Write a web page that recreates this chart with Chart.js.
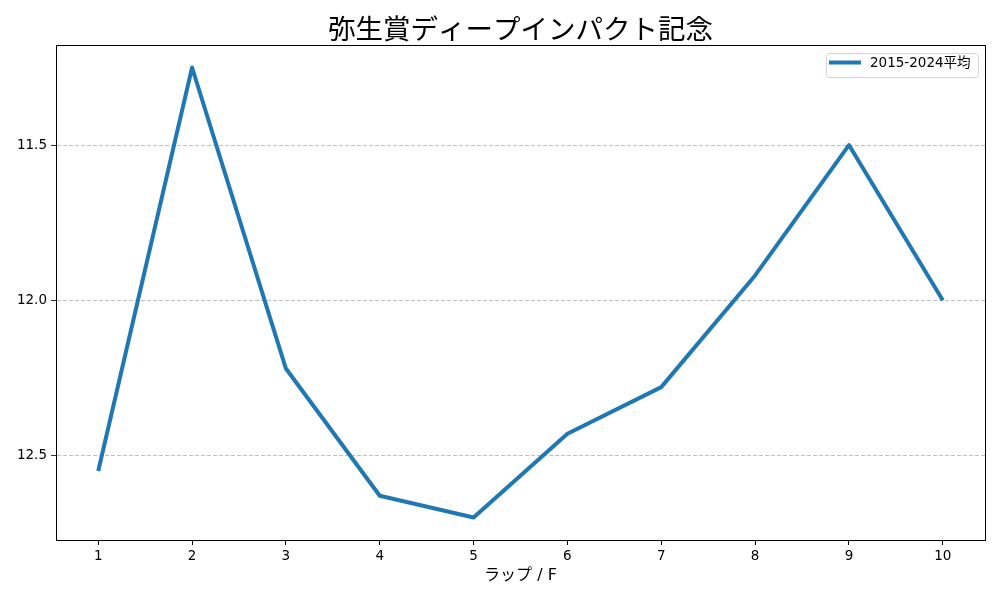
<!DOCTYPE html>
<html>
<head>
<meta charset="utf-8">
<script src="https://cdn.jsdelivr.net/npm/chart.js@4/dist/chart.umd.min.js"></script>
<style>
  html, body { margin: 0; padding: 0; background: #fff; }
  #wrap { width: 1000px; height: 600px; }
</style>
</head>
<body>
<div id="wrap"><canvas id="lapChart" width="1000" height="600"></canvas></div>
<script>
// Data
const laps = [1, 2, 3, 4, 5, 6, 7, 8, 9, 10];
const avgTimes = [12.55, 11.25, 12.22, 12.63, 12.70, 12.43, 12.28, 11.92, 11.50, 12.00];
const yTicks = [11.5, 12.0, 12.5];
const xTicks = [1, 2, 3, 4, 5, 6, 7, 8, 9, 10];
const seriesLabel = '2015-2024平均';
const chartTitle = '弥生賞ディープインパクト記念';
const xLabel = 'ラップ / F';

const FONT = "'DejaVu Sans', 'Noto Sans CJK JP', sans-serif";
const TITLE_FONT = "'Noto Sans CJK JP', sans-serif";
const LINE_COLOR = '#1f77b4';

// Frame, title and matplotlib-style legend
const decorPlugin = {
    id: 'decor',
    afterDraw(chart) {
        const ctx = chart.ctx;
        const a = chart.chartArea;
        ctx.save();
        ctx.strokeStyle = '#000';
        ctx.lineWidth = 1;
        ctx.strokeRect(Math.round(a.left) + 0.5, Math.round(a.top) + 0.5,
            Math.round(a.right - a.left), Math.round(a.bottom - a.top));

        // title
        ctx.fillStyle = '#000';
        ctx.font = '27.5px ' + TITLE_FONT;
        ctx.textAlign = 'center';
        ctx.textBaseline = 'alphabetic';
        ctx.fillText(chartTitle, (a.left + a.right) / 2, 38.5);

        // legend
        const bx = a.right - 159, by = a.top + 8, bw = 152, bh = 24;
        ctx.beginPath();
        ctx.roundRect(bx + 0.5, by + 0.5, bw, bh, 3);
        ctx.fillStyle = 'rgba(255,255,255,0.8)';
        ctx.fill();
        ctx.strokeStyle = '#d5d5d5';
        ctx.lineWidth = 1;
        ctx.stroke();
        ctx.beginPath();
        ctx.moveTo(bx + 3, by + 9.5);
        ctx.lineTo(bx + 35, by + 9.5);
        ctx.strokeStyle = LINE_COLOR;
        ctx.lineWidth = 4;
        ctx.stroke();
        ctx.fillStyle = '#000';
        ctx.font = '13.5px ' + FONT;
        ctx.textAlign = 'left';
        ctx.textBaseline = 'middle';
        ctx.fillText(seriesLabel, bx + 44, by + 10);
        ctx.restore();
    }
};

new Chart(document.getElementById('lapChart'), {
    type: 'line',
    data: {
        datasets: [{
            label: seriesLabel,
            data: laps.map((lap, i) => ({ x: lap, y: avgTimes[i] })),
            borderColor: LINE_COLOR,
            borderWidth: 4,
            pointRadius: 0,
            fill: false,
            tension: 0,
            borderJoinStyle: 'round',
            borderCapStyle: 'butt'
        }]
    },
    options: {
        responsive: false,
        animation: false,
        layout: { padding: { top: 45, right: 15, left: 0, bottom: 0 } },
        plugins: {
            legend: { display: false },
            title: { display: false },
            tooltip: { enabled: false }
        },
        scales: {
            x: {
                type: 'linear',
                min: 0.55,
                max: 10.45,
                afterBuildTicks: scale => { scale.ticks = xTicks.map(v => ({ value: v })); },
                afterFit: scale => { scale.height = 60; },
                grid: {
                    drawOnChartArea: false,
                    drawTicks: true,
                    tickLength: 5,
                    tickColor: '#000'
                },
                border: { color: '#000', width: 1 },
                ticks: {
                    color: '#000',
                    padding: 3,
                    maxRotation: 0,
                    font: { family: FONT, size: 13.5 },
                    callback: v => String(v)
                },
                title: {
                    display: true,
                    text: xLabel,
                    color: '#000',
                    font: { family: FONT, size: 16 },
                    padding: { top: 0, bottom: 15 }
                }
            },
            y: {
                type: 'linear',
                reverse: true,
                min: 11.1775,
                max: 12.7725,
                afterBuildTicks: scale => { scale.ticks = yTicks.map(v => ({ value: v })); },
                afterFit: scale => { scale.width = 56; },
                grid: {
                    color: '#b0b0b0',
                    lineWidth: 0.8,
                    drawTicks: true,
                    tickLength: 5,
                    tickColor: '#000'
                },
                border: { color: '#000', width: 1, dash: [4, 2] },
                ticks: {
                    color: '#000',
                    padding: 4,
                    font: { family: FONT, size: 13.5 },
                    callback: v => Number(v).toFixed(1)
                }
            }
        }
    },
    plugins: [decorPlugin]
});
</script>
</body>
</html>
